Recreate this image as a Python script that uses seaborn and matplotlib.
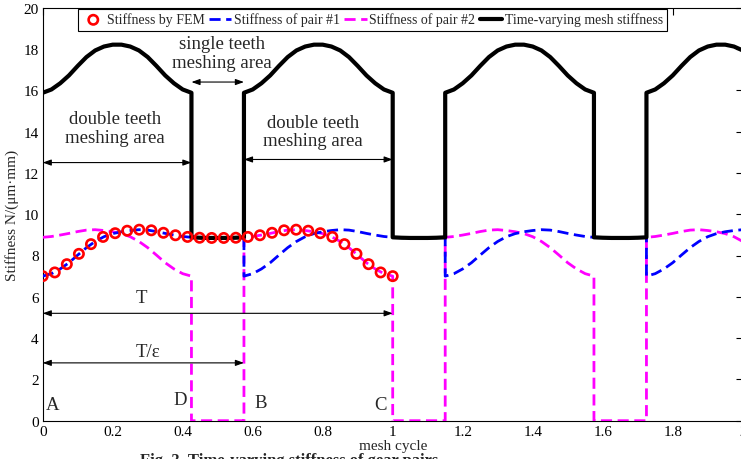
import numpy as np
import pandas as pd
import matplotlib
matplotlib.use("Agg")
import matplotlib.pyplot as plt
import seaborn as sns

# ---------------- data ----------------
# single-tooth-pair stiffness over one contact period (phase 0..1, step 0.025)
tooth_phase = np.round(np.arange(41) * 0.025, 3)
tooth_k = [7.00, 7.12, 7.35, 7.65, 8.02, 8.38, 8.68, 8.91, 9.06, 9.15,
           9.21, 9.25, 9.23, 9.16, 9.07, 8.99, 8.92, 8.88, 8.86, 8.85,
           8.85, 8.85, 8.86, 8.88, 8.92, 8.99, 9.07, 9.16, 9.23, 9.25,
           9.21, 9.15, 9.06, 8.91, 8.68, 8.38, 8.02, 7.65, 7.35, 7.12, 7.00]
# FEM samples (30 points over one contact period)
fem_phase = np.linspace(0, 1, 30)
fem_k = [7.00, 7.18, 7.58, 8.08, 8.55, 8.90, 9.08, 9.20, 9.25, 9.22,
         9.10, 8.98, 8.90, 8.86, 8.85, 8.85, 8.86, 8.90, 8.98, 9.10,
         9.22, 9.25, 9.20, 9.08, 8.90, 8.55, 8.08, 7.58, 7.18, 7.00]
mesh_period = 0.575          # T / epsilon
period_starts = [0.0, 0.575, 1.15, 1.725]
x_ticks = [0, 0.2, 0.4, 0.6, 0.8, 1.0, 1.2, 1.4, 1.6, 1.8, 2.0]
x_tick_labels = ["0", "0.2", "0.4", "0.6", "0.8", "1", "1.2", "1.4", "1.6", "1.8", "2"]
y_ticks = [0, 2, 4, 6, 8, 10, 12, 14, 16, 18, 20]
legend_labels = ["Stiffness by FEM", "Stiffness of pair #1",
                 "Stiffness of pair #2", "Time-varying mesh stiffness"]

# ---------------- build series ----------------
k = np.array(tooth_k)
n_mp = int(round(mesh_period / 0.025))       # 23 samples per mesh period
n_db = len(k) - n_mp                          # 18 samples of double contact
x_end = 2.0
b_x, b_y, m_x, m_y, t_x, t_y = [], [], [], [], [], []
for s in period_starts:
    b_x += list(s + tooth_phase[:n_mp + 1]); b_y += list(k[:n_mp + 1])
    m_x += list(s + tooth_phase[:n_db]); m_y += list(k[n_mp:])
    m_x += [s + tooth_phase[n_db - 1], s + mesh_period]; m_y += [0, 0]
    t_x += list(s + tooth_phase[:n_db]); t_y += list(k[:n_db] + k[n_mp:])
    t_x += list(s + tooth_phase[n_db - 1:n_mp + 1]); t_y += list(k[n_db - 1:n_mp + 1])

def clip(xs, ys):
    d = pd.DataFrame({"x": xs, "y": ys})
    return d[d.x <= x_end + 1e-9].reset_index(drop=True)

blue = clip(b_x, b_y)
mag = clip(m_x, m_y)
tot = clip(t_x, t_y)
fem = pd.DataFrame({"x": fem_phase, "y": fem_k})

# ---------------- plot ----------------
sns.set_style("white")
plt.rcParams["font.family"] = ["Liberation Serif", "DejaVu Serif"]

fig = plt.figure(figsize=(7.41, 4.60), dpi=100)
ax = fig.add_axes([42.7 / 741, 1 - 421.7 / 460, 700 / 741, 413 / 460])

sns.lineplot(data=mag, x="x", y="y", sort=False, estimator=None, ax=ax,
             color="#ff00ff", lw=2.0, linestyle=(0, (4, 2)), label=legend_labels[2], zorder=3)
sns.lineplot(data=blue, x="x", y="y", sort=False, estimator=None, ax=ax,
             color="#0000ff", lw=2.0, linestyle=(0, (4, 2)), label=legend_labels[1], zorder=3)
sns.lineplot(data=tot, x="x", y="y", sort=False, estimator=None, ax=ax,
             color="black", lw=3.0, label=legend_labels[3], zorder=4)
sns.scatterplot(data=fem, x="x", y="y", ax=ax, marker="o", s=45,
                facecolor="none", edgecolor="#ff0000", linewidth=1.9,
                label=legend_labels[0], zorder=5)

ax.set_xlim(0, 2)
ax.set_ylim(0, 20)
ax.set_xticks(x_ticks)
ax.set_xticklabels(x_tick_labels)
ax.set_yticks(y_ticks)
ax.tick_params(direction="in", top=True, right=True, length=5, width=0.8,
               labelsize=11, pad=3, colors="black")
for sp in ax.spines.values():
    sp.set_color("black"); sp.set_linewidth(0.8)
ax.set_xlabel("mesh cycle", fontsize=11, labelpad=1)
ax.set_ylabel("Stiffness N/(μm·mm)", fontsize=11, labelpad=3)

# legend
h, l = ax.get_legend_handles_labels()
order = [l.index(t) for t in legend_labels]
leg = ax.legend([h[i] for i in order], [l[i] for i in order], ncol=4,
                loc="upper left", bbox_to_anchor=(78 / 741, 1 - 9.5 / 460),
                bbox_transform=fig.transFigure, fontsize=10, frameon=True,
                fancybox=False, edgecolor="black", framealpha=1,
                handlelength=1.6, handletextpad=0.2, columnspacing=0.3,
                borderpad=0.3, borderaxespad=0)
leg.get_frame().set_linewidth(0.8)

# annotations
aprops = dict(arrowstyle="<|-|>,head_length=0.5,head_width=0.18", color="black",
              lw=0.8, shrinkA=0, shrinkB=0)
ann_fs = 13.5
ls = 1.12
ax.annotate("", xy=(0.0, 12.5), xytext=(0.425, 12.5), arrowprops=aprops)
ax.text(0.207, 14.17, "double teeth\nmeshing area", ha="center", va="center",
        fontsize=ann_fs, linespacing=ls)
ax.annotate("", xy=(0.425, 16.4), xytext=(0.575, 16.4), arrowprops=aprops)
ax.text(0.512, 17.8, "single teeth\nmeshing area", ha="center", va="center",
        fontsize=ann_fs, linespacing=ls)
ax.annotate("", xy=(0.575, 12.65), xytext=(1.0, 12.65), arrowprops=aprops)
ax.text(0.772, 14.0, "double teeth\nmeshing area", ha="center", va="center",
        fontsize=ann_fs, linespacing=ls)
ax.annotate("", xy=(0.0, 5.2), xytext=(1.0, 5.2), arrowprops=aprops)
ax.text(0.283, 5.95, "T", ha="center", va="center", fontsize=ann_fs)
ax.annotate("", xy=(0.0, 2.8), xytext=(0.575, 2.8), arrowprops=aprops)
ax.text(0.30, 3.35, "T/ε", ha="center", va="center", fontsize=ann_fs)
for lab, xx, yy in [("A", 0.027, 0.78), ("D", 0.393, 1.05), ("B", 0.623, 0.86), ("C", 0.964, 0.78)]:
    ax.text(xx, yy, lab, ha="center", va="center", fontsize=ann_fs)

# caption (cut off at the bottom edge in the reference)
fig.text(140 / 741, 1 - 453 / 460, "Fig. 3. Time-varying stiffness of gear pairs",
         ha="left", va="top", fontsize=12, fontweight="bold")

fig.savefig("out.png", dpi=100)
